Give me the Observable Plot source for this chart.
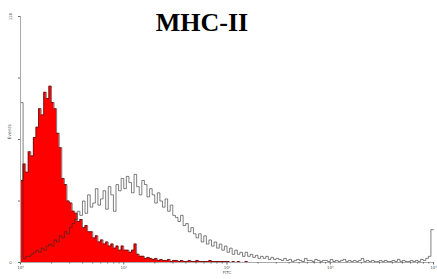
<!DOCTYPE html>
<html>
<head>
<meta charset="utf-8">
<script src="https://cdn.jsdelivr.net/npm/d3@7"></script>
<script src="https://cdn.jsdelivr.net/npm/@observablehq/plot@0.6"></script>
<style>
  html, body { margin: 0; padding: 0; background: white; }
</style>
</head>
<body>
<div id="chart"></div>
<script>
const title = "MHC-II";
const xLabel = "FITC";
const yLabel = "Events";
const binsPerDecade = 40;
const majorTicks = [1, 10, 100, 1000, 10000];
const majorLabels = ["10⁰", "10¹", "10²", "10³", "10⁴"];
const yTicks = [0, 30, 60, 90, 120];

// Filled (red) histogram, counts per bin (40 bins per decade from 10^0)
const redCounts = [
  40, 48, 44, 54, 52, 61, 66, 75, 72, 83,
  80, 86, 78, 75, 63, 56, 41, 38, 30, 29,
  25, 24, 20, 21, 17, 18, 15, 15, 12, 13,
  10, 11, 9, 10, 8, 9, 7, 8, 6, 8,
  6, 6, 5, 6, 9, 4, 3, 3, 2, 2.5,
  2, 1.5, 2, 1, 1.5, 1, 1, 1.5, 0.5, 1,
  1, 0.5, 1, 0.5, 0.5, 1, 0.5, 0.5, 1, 0.5,
  0.5, 0.5, 0.5, 1, 0.5, 0.5, 0.5, 0.5, 0.5, 0.5,
  0.5, 0, 0.5, 0, 0.5, 0, 0, 0.5, 0, 0
];

// Open (black outline) histogram, counts per bin
const blackCounts = [
  78, 2, 3, 3, 4, 5, 6, 5, 7, 6,
  8, 9, 8, 11, 10, 13, 12, 15, 14, 17,
  19, 21, 25, 23, 30, 24, 33, 27, 29, 36,
  28, 31, 35, 26, 37, 33, 25, 38, 35, 41,
  36, 42, 39, 34, 43, 37, 33, 40, 38, 32,
  36, 33, 29, 34, 30, 27, 31, 25, 28, 23,
  22, 20, 23, 18, 19, 15, 17, 14, 12, 14,
  10, 13, 9, 11, 8, 10, 7, 9, 6, 8,
  5, 7, 4, 6, 4, 5, 3, 5, 3, 4,
  2.5, 3.5, 2, 3, 2, 3, 1.5, 2.5, 1.5, 2,
  1.5, 1, 2, 1, 1.5, 0.5, 1, 1.5, 1, 0.5,
  2, 1, 1, 0.5, 1.5, 1, 0.5, 1, 1, 0.5,
  1.5, 0.5, 1, 0.5, 1, 1.5, 0.5, 1, 0.5, 1,
  0.5, 1, 2, 0.5, 1, 0.5, 1, 0.5, 0.5, 1,
  0.5, 1, 0.5, 0.5, 1, 0.5, 1.5, 0.5, 1, 0.5,
  0.5, 1, 0.5, 1, 0.5, 1.5, 1, 2, 3, 16
];

const nBins = blackCounts.length;
const pts = d3.range(nBins + 1).map(i => ({
  x: Math.pow(10, i / binsPerDecade),
  red: i < nBins ? (redCounts[i] ?? 0) : 0,
  black: i < nBins ? blackCounts[i] : blackCounts[nBins - 1]
}));

const minorTicks = [];
for (let e = 0; e < 4; e++) for (let k = 2; k <= 9; k++) minorTicks.push(k * Math.pow(10, e));

const chart = Plot.plot({
  width: 437,
  height: 279,
  marginLeft: 20,
  marginRight: 4,
  marginTop: 16,
  marginBottom: 17,
  style: { background: "white", fontFamily: "DejaVu Sans" },
  x: { type: "log", domain: [1, 10000] },
  y: { domain: [0, 120] },
  marks: [
    Plot.areaY(pts, { x: "x", y: "red", curve: "step-after", fill: "#ff0000" }),
    Plot.lineY(pts, { x: "x", y: "red", curve: "step-after", stroke: "#222", strokeWidth: 0.6 }),
    Plot.lineY(pts, { x: "x", y: "black", curve: "step-after", stroke: "#2a2a2a", strokeWidth: 0.6 }),
    Plot.ruleX([1], { stroke: "#aaa", strokeWidth: 1 }),
    Plot.ruleY([0], { stroke: "#aaa", strokeWidth: 1 }),
    Plot.axisX({ ticks: minorTicks, tickSize: 1.5, tickFormat: () => "", label: null, stroke: "#666" }),
    Plot.axisX({ ticks: majorTicks, tickSize: 2.5, tickFormat: (d) => majorLabels[majorTicks.indexOf(d)], fontSize: 4, tickPadding: 1, label: null, stroke: "#666", fill: "#555" }),
    Plot.axisY({ ticks: yTicks, tickSize: 2, tickFormat: d => (d === 0 || d === 120) ? String(d) : "", fontSize: 4, tickRotate: -90, label: null, stroke: "#666", fill: "#555" }),
    Plot.text([xLabel], { frameAnchor: "bottom", dy: 11, fontSize: 4, fill: "#555" }),
    Plot.text([yLabel], { frameAnchor: "left", dx: -11, rotate: -90, fontSize: 4.5, fill: "#555" }),
    Plot.text([title], { frameAnchor: "top", dx: -25, dy: 14, lineAnchor: "bottom", fontSize: 26, fontWeight: "bold", fontFamily: "Liberation Serif", fill: "black" })
  ]
});
document.getElementById("chart").appendChild(chart);
</script>
</body>
</html>
